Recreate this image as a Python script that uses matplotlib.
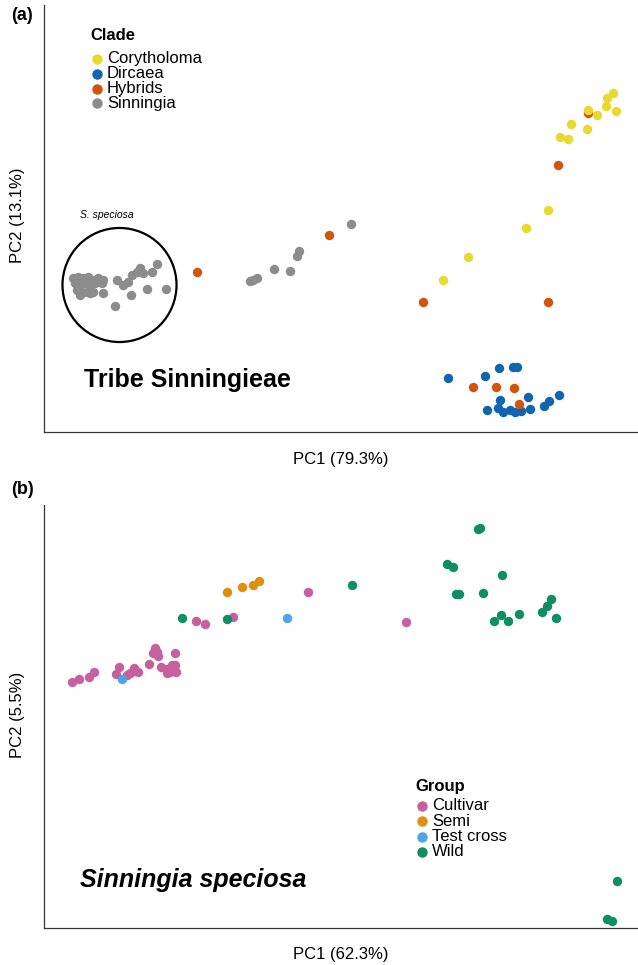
import matplotlib
matplotlib.use("Agg")
import matplotlib.pyplot as plt
from matplotlib.patches import Circle
import numpy as np

plt.rcParams['font.family'] = ['Liberation Sans', 'DejaVu Sans']

W, H = 638, 965

# ---- panel (a): tribe Sinningieae PCA scores ----
clades = ["Corytholoma", "Dircaea", "Hybrids", "Sinningia"]
clade_colors = {"Corytholoma": "#E9D92E", "Dircaea": "#0F66AE",
                "Hybrids": "#D2560A", "Sinningia": "#8C8C8C"}

cory_pc1 = [613, 607, 606, 616, 597, 588, 587, 571, 560, 568, 548, 526, 468, 443]
cory_pc2 = [93, 98, 106, 111, 115, 110, 129, 124, 137, 139, 210, 228, 257, 280]

dirc_pc1 = [448, 485, 499, 513, 517, 487, 500, 498, 503, 510, 515, 521, 528, 530, 544, 549, 559]
dirc_pc2 = [378, 376, 368, 367, 367, 410, 400, 408, 412, 410, 412, 411, 397, 409, 406, 401, 395]

hyb_pc1 = [558, 588, 329, 197, 423, 548, 473, 496, 514, 519]
hyb_pc2 = [165, 113, 235, 272, 302, 302, 387, 387, 388, 404]

sinn_pc1 = [73, 78, 83, 88, 93, 98, 103, 75, 80, 85, 90, 95, 102, 77, 82, 87, 93, 103, 80, 90,
            117, 123, 128, 132, 137, 143, 140, 152, 157, 131, 147, 166, 115,
            351, 299, 297, 290, 274, 257, 253, 250]
sinn_pc2 = [278, 277, 278, 277, 280, 278, 280, 283, 285, 283, 285, 283, 283, 290, 292, 292, 292, 293, 295, 293,
            280, 285, 282, 275, 272, 273, 268, 272, 264, 295, 289, 289, 306,
            224, 251, 256, 271, 269, 278, 280, 281]

# ---- panel (b): Sinningia speciosa PCA scores ----
groups = ["Cultivar", "Semi", "Test cross", "Wild"]
group_colors = {"Cultivar": "#C7619E", "Semi": "#E08F0C",
                "Test cross": "#4BA6E3", "Wild": "#0E8F63"}

cult_pc1 = [72, 79, 89, 94, 119, 116, 127, 133, 134, 138, 130, 149, 155, 157, 153, 158, 175,
            161, 166, 172, 175, 170, 176, 167, 196, 205, 233, 308, 406]
cult_pc2 = [682, 679, 677, 672, 667, 674, 675, 671, 668, 672, 673, 664, 648, 652, 653, 656, 653,
            667, 669, 665, 665, 672, 672, 673, 621, 624, 617, 592, 622]

semi_pc1 = [227, 242, 253, 259]
semi_pc2 = [592, 587, 585, 581]

test_pc1 = [122, 287]
test_pc2 = [679, 618]

wild_pc1 = [182, 227, 352, 478, 480, 447, 453, 502, 456, 459, 483, 551, 547, 542, 556, 519,
            501, 494, 508, 617, 607, 612]
wild_pc2 = [618, 619, 585, 529, 528, 564, 567, 575, 594, 594, 593, 599, 606, 612, 618, 614,
            615, 621, 621, 881, 919, 921]


def fx(px):
    return px / W


def fy(py):
    return 1 - py / H


def make_axes(fig, left, top, right, bottom):
    ax = fig.add_axes([fx(left), fy(bottom), fx(right) - fx(left), (bottom - top) / H])
    ax.set_xlim(left, right)
    ax.set_ylim(bottom, top)
    ax.set_xticks([])
    ax.set_yticks([])
    for s in ["top", "right"]:
        ax.spines[s].set_visible(False)
    for s in ["left", "bottom"]:
        ax.spines[s].set_linewidth(0.9)
        ax.spines[s].set_color("#333333")
    return ax


def legend(fig, title, labels, colors, x, ytitle, y0, dy):
    fig.text(fx(x - 7), fy(ytitle), title, fontsize=12, fontweight="bold", ha="left", va="center")
    for i, lab in enumerate(labels):
        yy = y0 + i * dy
        fig.lines.append(plt.Line2D([fx(x)], [fy(yy)], marker="o", ms=6.5, color=colors[lab],
                                    lw=0, transform=fig.transFigure))
        fig.text(fx(x + 10), fy(yy), lab, fontsize=12, ha="left", va="center")


fig = plt.figure(figsize=(W / 100, H / 100), dpi=100)

# panel (a)
ax1 = make_axes(fig, 44, 5, 638, 432)
ax1.scatter(dirc_pc1, dirc_pc2, s=46, color=clade_colors["Dircaea"], lw=0, zorder=3)
ax1.scatter(hyb_pc1, hyb_pc2, s=46, color=clade_colors["Hybrids"], lw=0, zorder=3)
ax1.scatter(cory_pc1, cory_pc2, s=46, color=clade_colors["Corytholoma"], lw=0, zorder=3)
ax1.scatter(sinn_pc1, sinn_pc2, s=46, color=clade_colors["Sinningia"], lw=0, zorder=3)

# circle around the S. speciosa cluster
sx = np.array(sinn_pc1[:33])
sy = np.array(sinn_pc2[:33])
cx, cy = (sx.min() + sx.max()) / 2, (sy.min() + sy.max()) / 2
r = np.max(np.hypot(sx - cx, sy - cy)) + 10
ax1.add_patch(Circle((cx, cy), r, fill=False, lw=1.6, color="black", zorder=2))
ax1.text(cx - 13, cy - r - 8, "S. speciosa", style="italic", fontsize=7.5, ha="center", va="bottom")

ax1.text(84, 380, "Tribe Sinningieae", fontsize=18, fontweight="bold", ha="left", va="center")

legend(fig, "Clade", clades, clade_colors, 97, 36, 59, 14.8)

fig.text(fx(341), fy(460), "PC1 (79.3%)", fontsize=12, ha="center", va="center")
fig.text(fx(18), fy(215), "PC2 (13.1%)", fontsize=12, ha="center", va="center", rotation=90)
fig.text(fx(11), fy(15), "(a)", fontsize=13, fontweight="bold", ha="left", va="center")

# panel (b)
ax2 = make_axes(fig, 44, 505, 638, 928)
ax2.scatter(cult_pc1, cult_pc2, s=46, color=group_colors["Cultivar"], lw=0, zorder=3)
ax2.scatter(semi_pc1, semi_pc2, s=46, color=group_colors["Semi"], lw=0, zorder=3)
ax2.scatter(wild_pc1, wild_pc2, s=46, color=group_colors["Wild"], lw=0, zorder=3)
ax2.scatter(test_pc1, test_pc2, s=46, color=group_colors["Test cross"], lw=0, zorder=4)

ax2.text(80, 880, "Sinningia speciosa", fontsize=18, fontweight="bold", style="italic",
         ha="left", va="center")

legend(fig, "Group", groups, group_colors, 422, 787, 806, 15.3)

fig.text(fx(341), fy(955), "PC1 (62.3%)", fontsize=12, ha="center", va="center")
fig.text(fx(18), fy(715), "PC2 (5.5%)", fontsize=12, ha="center", va="center", rotation=90)
fig.text(fx(11), fy(490), "(b)", fontsize=13, fontweight="bold", ha="left", va="center")

fig.savefig("out.png", dpi=100)
